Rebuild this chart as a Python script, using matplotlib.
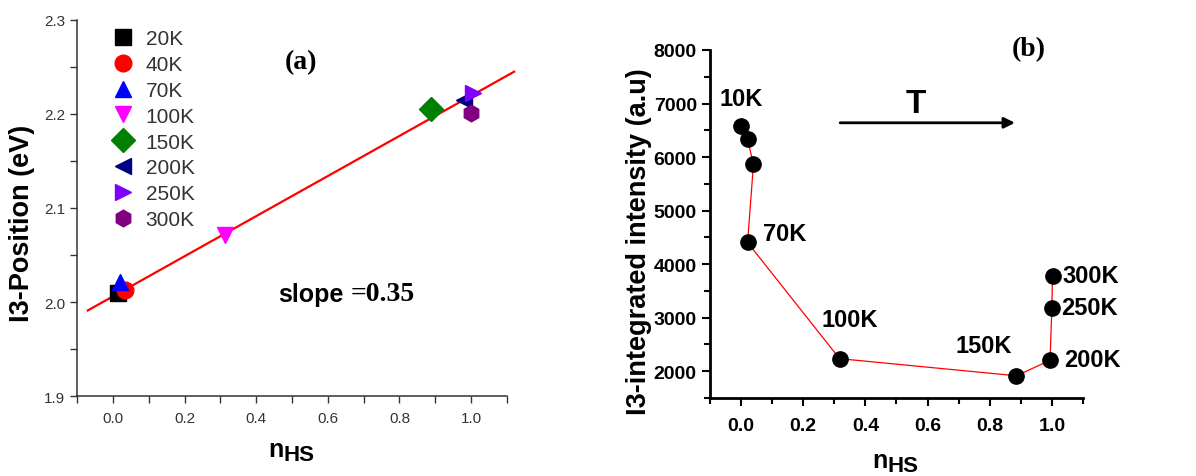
import numpy as np
import matplotlib.pyplot as plt
from matplotlib.ticker import MultipleLocator

plt.rcParams['font.family'] = ['Liberation Sans', 'DejaVu Sans']

# (a) peak position vs n_HS
temps_a = ['20K', '40K', '70K', '100K', '150K', '200K', '250K', '300K']
nhs_a = [0.015, 0.034, 0.02, 0.314, 0.888, 0.98, 1.005, 1.0]
pos_a = [2.010, 2.013, 2.021, 2.071, 2.205, 2.215, 2.222, 2.201]
markers_a = ['s', 'o', '^', 'v', 'D', '<', '>', 'h']
colors_a = ['#000000', '#ff0000', '#0000ff', '#ff00ff', '#008000', '#000080', '#8000ff', '#800080']
fit_x = [-0.07, 1.12]
fit_y = [1.991, 2.245]

# (b) integrated intensity vs n_HS
nhs_b = [0.0, 0.021, 0.04, 0.021, 0.317, 0.886, 0.994, 1.0, 1.002]
inten_b = [6580, 6330, 5865, 4405, 2235, 1915, 2205, 3190, 3780]
lab_b = ['10K', '70K', '100K', '150K', '200K', '250K', '300K']
lab_x = [0.0, 0.14, 0.35, 0.78, 1.13, 1.12, 1.126]
lab_y = [7100, 4570, 2960, 2490, 2215, 3190, 3780]

fig = plt.figure(figsize=(11.96, 4.77), dpi=100)

# ---------- panel (a)
ax1 = fig.add_axes([0.0644, 0.1677, 0.3595, 0.7883])
ax1.plot(fit_x, fit_y, color='red', lw=1.6, clip_on=False, zorder=2)
for t, x, y, m, c in zip(temps_a, nhs_a, pos_a, markers_a, colors_a):
    ax1.plot([x], [y], linestyle='none', marker=m, color=c, ms=12, label=t, zorder=3)
ax1.set_xlim(-0.1, 1.1)
ax1.set_ylim(1.9, 2.3)
ax1.xaxis.set_major_locator(MultipleLocator(0.2))
ax1.xaxis.set_minor_locator(MultipleLocator(0.1))
ax1.yaxis.set_major_locator(MultipleLocator(0.1))
ax1.yaxis.set_minor_locator(MultipleLocator(0.05))
for s in ['top', 'right']:
    ax1.spines[s].set_visible(False)
for s in ['left', 'bottom']:
    ax1.spines[s].set_color('#333333')
    ax1.spines[s].set_linewidth(1.1)
ax1.tick_params(which='both', direction='out', length=5, width=1, color='#333333',
                labelsize=11, labelcolor='#333333')
ax1.tick_params(axis='x', pad=6)
ax1.set_ylabel('I3-Position (eV)', fontsize=19.5, fontweight='bold')
ax1.yaxis.set_label_coords(-0.098, 0.463)
ax1.legend(loc='upper left', bbox_to_anchor=(0.06, 0.998), frameon=False, fontsize=15,
           handletextpad=0.55, labelspacing=0.33, handlelength=1.1, borderaxespad=0,
           labelcolor='#333333')
ax1.text(0.524, 2.256, '(a)', family='Liberation Serif', fontweight='bold', fontsize=20,
         ha='center', va='center')
tsl = ax1.text(0.462, 2.009, 'slope', fontweight='bold', fontsize=18, ha='left', va='center')
ax1.annotate('=0.35', xy=(1, 0), xycoords=tsl, xytext=(5, 0), textcoords='offset points',
             family='Liberation Serif', fontweight='bold', fontsize=20, ha='left', va='bottom')
tn1 = ax1.text(0.444, -0.16, 'n', transform=ax1.transAxes, fontweight='bold', fontsize=18,
               ha='left', va='baseline')
ax1.annotate('HS', xy=(1, 0), xycoords=tn1, xytext=(0, -3), textcoords='offset points',
             fontweight='bold', fontsize=16, ha='left', va='bottom')

# ---------- panel (b)
ax2 = fig.add_axes([0.5936, 0.1635, 0.3119, 0.7296])
ax2.plot(nhs_b, inten_b, color='red', lw=0.9, zorder=2)
ax2.plot(nhs_b, inten_b, linestyle='none', marker='o', color='black', ms=11, zorder=3)
ax2.set_xlim(-0.1, 1.1)
ax2.set_ylim(1500, 8000)
ax2.xaxis.set_major_locator(MultipleLocator(0.2))
ax2.xaxis.set_minor_locator(MultipleLocator(0.1))
ax2.yaxis.set_major_locator(MultipleLocator(1000))
ax2.yaxis.set_minor_locator(MultipleLocator(500))
for s in ['top', 'right']:
    ax2.spines[s].set_visible(False)
for s in ['left', 'bottom']:
    ax2.spines[s].set_linewidth(2)
ax2.tick_params(which='major', direction='out', length=6, width=1.5, labelsize=14)
ax2.tick_params(which='minor', direction='out', length=4, width=1.5)
for lab in ax2.get_xticklabels() + ax2.get_yticklabels():
    lab.set_fontweight('bold')
ax2.tick_params(axis='x', pad=8)
ax2.set_ylabel('I3-integrated intensity (a.u)', fontsize=19.5, fontweight='bold')
ax2.yaxis.set_label_coords(-0.155, 0.4526)
for t, x, y in zip(lab_b, lab_x, lab_y):
    ax2.text(x, y, t, fontsize=17, fontweight='bold', ha='center', va='center')
ax2.annotate('', xy=(0.89, 6640), xytext=(0.31, 6640),
             arrowprops=dict(arrowstyle='-|>', color='black', lw=2, mutation_scale=16))
ax2.text(0.561, 6994, 'T', fontsize=24, fontweight='bold', ha='center', va='center')
ax2.text(0.926, 8020, '(b)', family='Liberation Serif', fontweight='bold', fontsize=20,
         ha='center', va='center')
tn2 = ax2.text(0.434, -0.198, 'n', transform=ax2.transAxes, fontweight='bold', fontsize=18,
               ha='left', va='baseline')
ax2.annotate('HS', xy=(1, 0), xycoords=tn2, xytext=(0, -3), textcoords='offset points',
             fontweight='bold', fontsize=16, ha='left', va='bottom')

fig.savefig('out.png', dpi=100)
